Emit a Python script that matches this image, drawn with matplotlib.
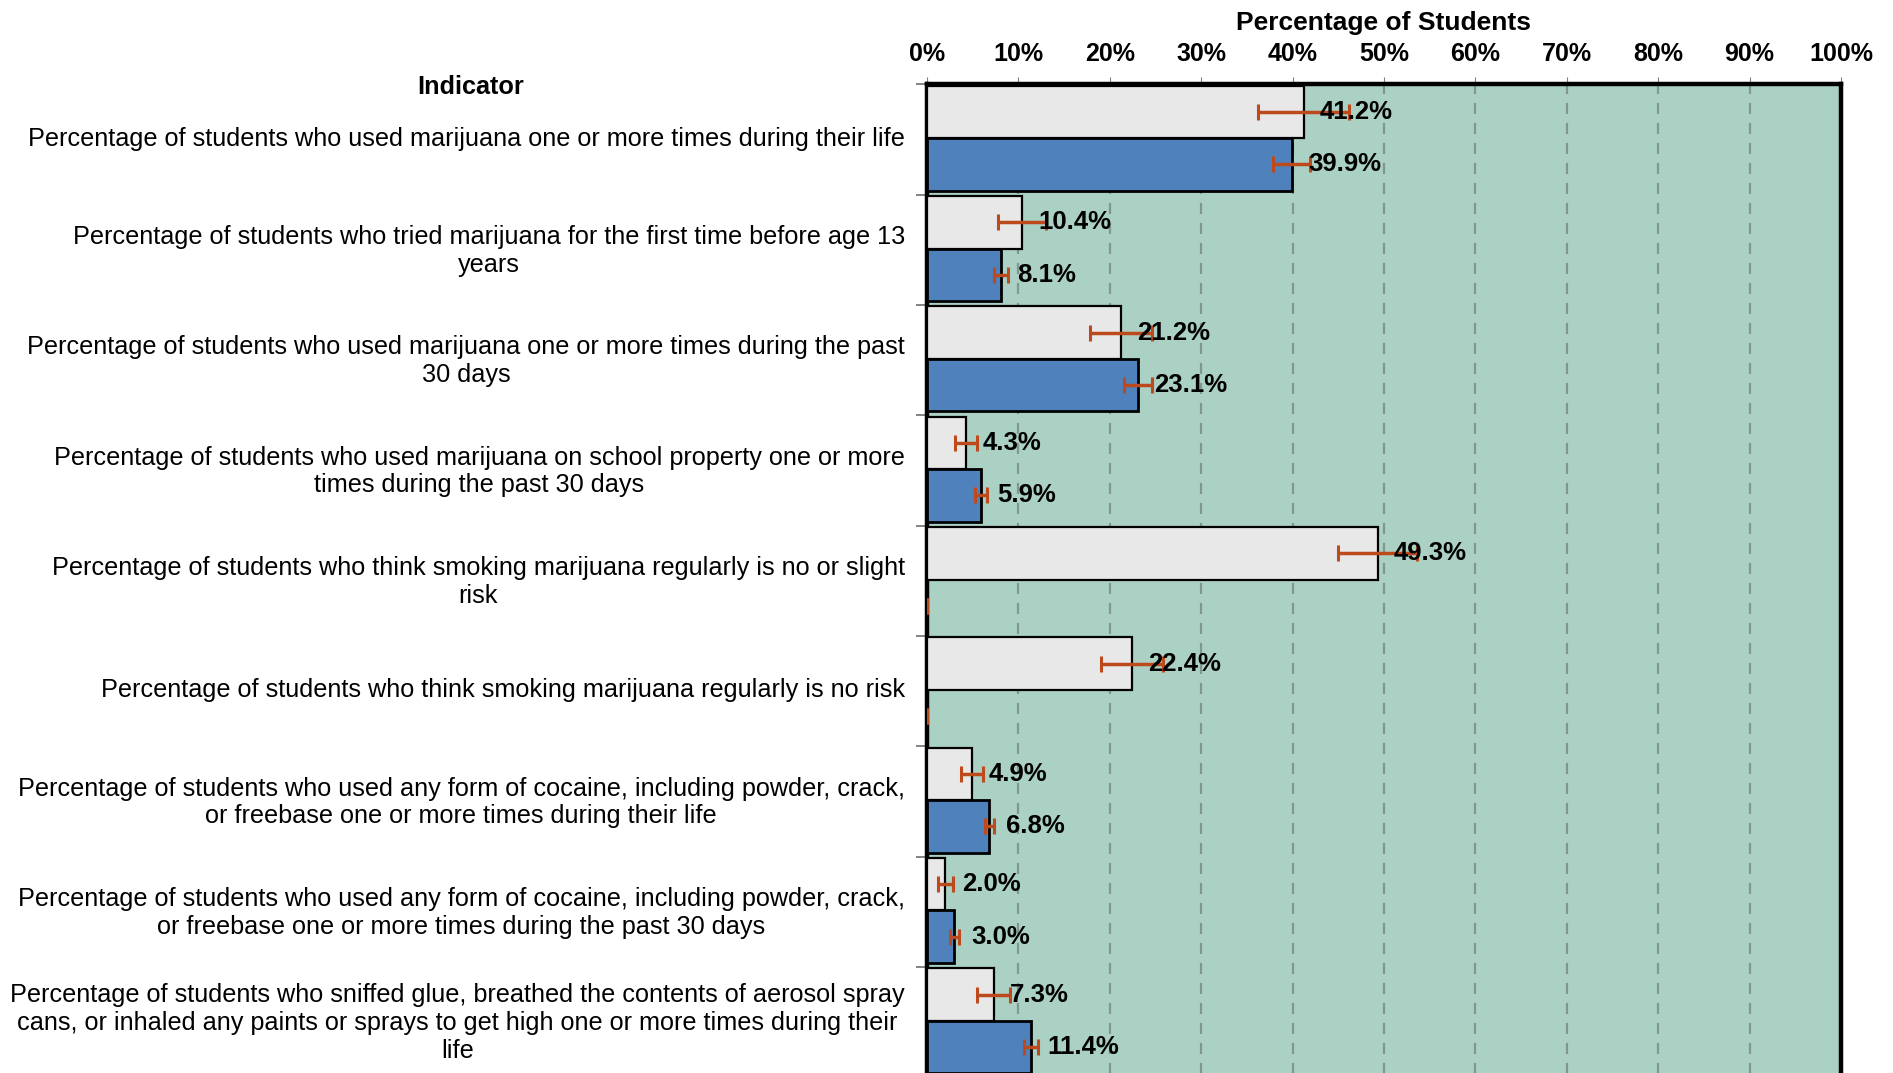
import numpy as np
import matplotlib
matplotlib.use("Agg")
import matplotlib.pyplot as plt
import matplotlib.transforms as mtransforms
from matplotlib.ticker import FixedLocator

plt.rcParams['font.family'] = ['Liberation Sans', 'DejaVu Sans']

categories = [
    "Percentage of students who used marijuana one or more times during their life",
    "Percentage of students who tried marijuana for the first time before age 13\nyears",
    "Percentage of students who used marijuana one or more times during the past\n30 days",
    "Percentage of students who used marijuana on school property one or more\ntimes during the past 30 days",
    "Percentage of students who think smoking marijuana regularly is no or slight\nrisk",
    "Percentage of students who think smoking marijuana regularly is no risk",
    "Percentage of students who used any form of cocaine, including powder, crack,\nor freebase one or more times during their life",
    "Percentage of students who used any form of cocaine, including powder, crack,\nor freebase one or more times during the past 30 days",
    "Percentage of students who sniffed glue, breathed the contents of aerosol spray\ncans, or inhaled any paints or sprays to get high one or more times during their\nlife",
]
series_a = [41.2, 10.4, 21.2, 4.3, 49.3, 22.4, 4.9, 2.0, 7.3]
series_a_err = [5.0, 2.6, 3.4, 1.2, 4.3, 3.4, 1.2, 0.8, 1.8]
series_b = [39.9, 8.1, 23.1, 5.9, np.nan, np.nan, 6.8, 3.0, 11.4]
series_b_err = [2.0, 0.8, 1.5, 0.7, 0.0, 0.0, 0.5, 0.5, 0.75]
xticks = [0, 10, 20, 30, 40, 50, 60, 70, 80, 90, 100]
xtick_labels = [f"{t}%" for t in xticks]

W, H = 1893, 1073
fig = plt.figure(figsize=(W / 100, H / 100), dpi=100)
ax = fig.add_axes([927 / W, -0.004, (1841 - 927) / W, 1 - 84.5 / H + 0.004])
ax.set_facecolor('#abd1c4')

y = np.arange(len(categories))
bh = 0.475
ya = y - 0.5 + 0.0125 + bh / 2
yb = ya + bh
a = np.array(series_a)
b = np.array(series_b, dtype=float)
b0 = np.nan_to_num(b)

ax.barh(ya, a, height=bh, color='#e8e8e8', edgecolor='black', linewidth=1.6, zorder=3)
ax.barh(yb, b0, height=bh, color='#4f81bd', edgecolor='black', linewidth=2.0, zorder=3)
ecol = '#bd4a1c'
ax.errorbar(a, ya, xerr=series_a_err, fmt='none', ecolor=ecol, elinewidth=2.5,
            capsize=5.5, capthick=2.2, zorder=4)
ax.errorbar(b0, yb, xerr=series_b_err, fmt='none', ecolor=ecol, elinewidth=2.5,
            capsize=5.5, capthick=2.2, zorder=4)

for v, yy in zip(a, ya):
    ax.text(v + 1.8, yy, f"{v:.1f}%", ha='left', va='center', fontsize=18.5,
            fontweight='bold', zorder=5)
for v, yy in zip(b, yb):
    if not np.isnan(v):
        ax.text(v + 1.8, yy, f"{v:.1f}%", ha='left', va='center', fontsize=18.5,
                fontweight='bold', zorder=5)

ax.set_xlim(0, 100)
ax.set_ylim(len(categories) - 0.5, -0.5)
ax.xaxis.tick_top()
ax.xaxis.set_label_position('top')
ax.set_xticks(xticks)
ax.set_xticklabels(xtick_labels, fontsize=18, fontweight='bold')
ax.tick_params(axis='x', length=5, color='#808080', pad=8)
ax.set_xlabel("Percentage of Students", fontsize=19, fontweight='bold', labelpad=9)

ax.yaxis.set_major_locator(FixedLocator(np.arange(-0.5, len(categories), 1.0)))
ax.set_yticklabels([])
ax.yaxis.set_minor_locator(FixedLocator(y))
ax.set_yticklabels(categories, minor=True, fontsize=18.2, multialignment='center')
ax.tick_params(axis='y', which='major', length=8, color='#707070', width=1.2)
ax.tick_params(axis='y', which='minor', length=0, pad=16)
shift = mtransforms.ScaledTranslation(0, 3.5 / 100, fig.dpi_scale_trans)
for lbl in ax.get_yticklabels(minor=True):
    lbl.set_transform(lbl.get_transform() + shift)

for t in xticks[1:-1]:
    ax.axvline(t, color='#7f9790', linestyle=(0, (5, 4)), linewidth=1.6, zorder=1)

for s in ['left', 'top', 'right']:
    ax.spines[s].set_linewidth(3.2)
    ax.spines[s].set_color('black')
ax.spines['bottom'].set_visible(False)

fig.text(471 / W, 1 - 87 / H, "Indicator", ha='center', va='center', fontsize=18.2,
         fontweight='bold')

fig.savefig("out.png", dpi=100)
